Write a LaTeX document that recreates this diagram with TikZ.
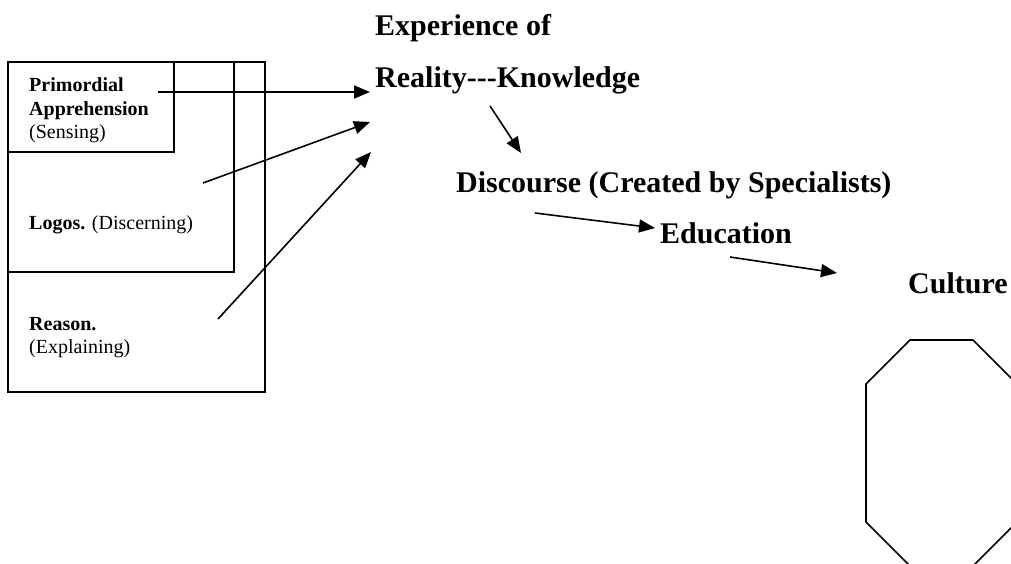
\documentclass[tikz,border=0pt]{standalone}
\usepackage{fontspec}
\setmainfont{Liberation Serif}
\usetikzlibrary{arrows.meta}
\newcommand{\hyph}{-\kern0pt}
\begin{document}
\begin{tikzpicture}[x=1pt,y=-1pt,
  box/.style={draw,line width=1.6pt},
  small/.style={anchor=base west,inner sep=0pt,font=\fontsize{20}{23}\selectfont},
  big/.style={anchor=base west,inner sep=0pt,font=\fontsize{30}{34}\selectfont\bfseries},
  link/.style={line width=1.6pt,-{Triangle[length=16pt,width=13pt]}}]
\useasboundingbox (0,0) rectangle (1011,563);
\clip (0,0) rectangle (1011,563);

% nested faculty boxes
\draw[box] (8,62) rectangle (265,392);
\draw[box] (8,62) rectangle (234,272);
\draw[box] (8,62) rectangle (174,152);

\node[small] (prim1) at (29,91) {\textbf{Primordial}};
\node[small] (prim2) at (29,115) {\textbf{Apprehension}};
\node[small] (prim3) at (29,138) {(Sensing)};
\node[small] (logos) at (29,229) {\textbf{Logos.} (Discerning)};
\node[small] (reas1) at (29,330) {\textbf{Reason.}};
\node[small] (reas2) at (29,353) {(Explaining)};

% main chain
\node[big] (exp) at (375,35) {Experience of};
\node[big] (real) at (375,87) {Reality\hyph\hyph\hyph Knowledge};
\node[big] (disc) at (456,192) {Discourse (Created by Specialists)};
\node[big] (edu) at (660,243) {Education};
\node[big] (cult) at (908,293) {Culture};

% arrow endpoints
\coordinate (a1s) at (158,92);  \coordinate (a1e) at (370,92);
\coordinate (a2s) at (203,183); \coordinate (a2e) at (370,122);
\coordinate (a3s) at (218,319); \coordinate (a3e) at (371,152);
\coordinate (a4s) at (490,106); \coordinate (a4e) at (521,153);
\coordinate (a5s) at (535,213); \coordinate (a5e) at (655,228);
\coordinate (a6s) at (730,257); \coordinate (a6e) at (837,273);

\draw[link] (a1s) -- (a1e);
\draw[link] (a2s) -- (a2e);
\draw[link] (a3s) -- (a3e);
\draw[link] (a4s) -- (a4e);
\draw[link] (a5s) -- (a5e);
\draw[link] (a6s) -- (a6e);

% octagon below Culture
\draw[line width=1.6pt] (910,340) -- (973,340) -- (1017,384) -- (1017,522)
  -- (973,566) -- (910,566) -- (866,522) -- (866,384) -- cycle;
\end{tikzpicture}
\end{document}
